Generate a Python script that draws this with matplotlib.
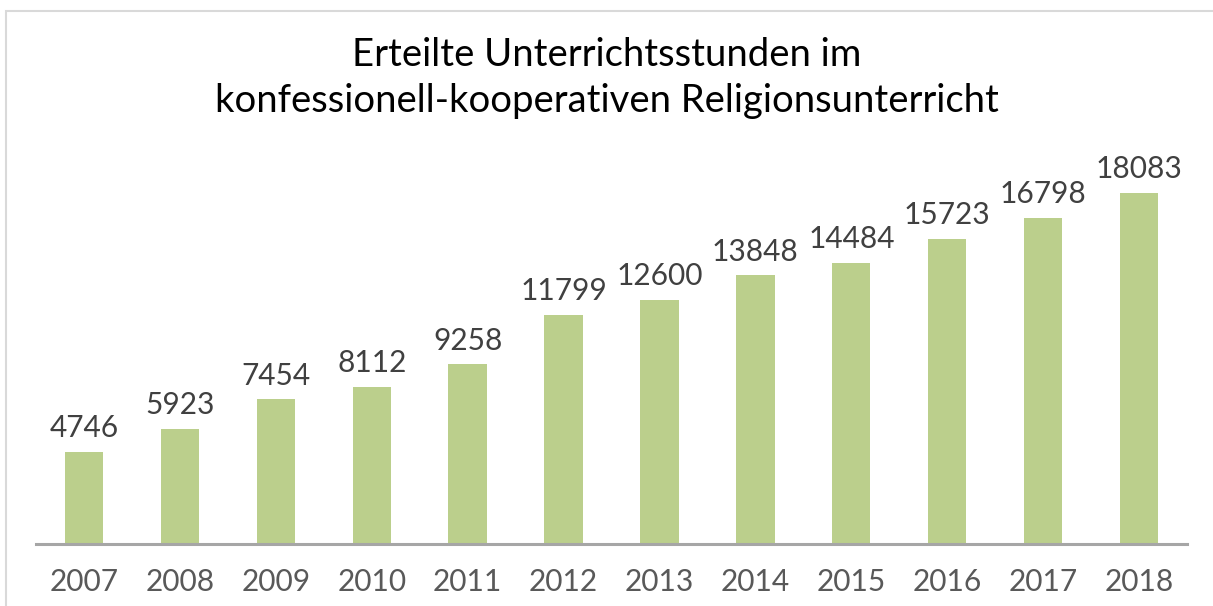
import matplotlib.pyplot as plt
from matplotlib.patches import Rectangle

years = ['2007', '2008', '2009', '2010', '2011', '2012',
         '2013', '2014', '2015', '2016', '2017', '2018']
stunden = [4746, 5923, 7454, 8112, 9258, 11799,
           12600, 13848, 14484, 15723, 16798, 18083]

plt.rcParams['font.family'] = ['Lato', 'DejaVu Sans']

fig = plt.figure(figsize=(12.13, 6.06), dpi=100)

# light frame of the chart area (right/bottom edges run off the image)
fig.patches.append(Rectangle((6 / 1213, -0.1), 1.2, (606 - 11) / 606 + 0.1,
                             transform=fig.transFigure, fill=False,
                             edgecolor='#D9D9D9', linewidth=1.5))

ax = fig.add_axes([36 / 1213, 62 / 606, 1151 / 1213, 388 / 606])
x = range(len(years))
bars = ax.bar(x, stunden, width=0.4, color='#BBCF8C')

for b, v in zip(bars, stunden):
    ax.text(b.get_x() + b.get_width() / 2, v + 500, str(v),
            ha='center', va='bottom', fontsize=21.5, color='#404040')

ax.set_xlim(-0.5, len(years) - 0.5)
ax.set_ylim(0, 20000)
ax.set_xticks(list(x))
ax.set_xticklabels(years, fontsize=21.5, color='#595959')
ax.tick_params(axis='x', length=0, pad=17)
ax.set_yticks([])
for s in ['top', 'right', 'left']:
    ax.spines[s].set_visible(False)
ax.spines['bottom'].set_color('#A6A6A6')
ax.spines['bottom'].set_linewidth(2.2)

fig.text(0.5, 1 - 55 / 606, 'Erteilte Unterrichtsstunden im',
         ha='center', va='center', fontsize=27.5, color='#000000')
fig.text(0.5, 1 - 101 / 606, 'konfessionell-kooperativen Religionsunterricht',
         ha='center', va='center', fontsize=27.5, color='#000000')

fig.savefig('out.png', dpi=100)
